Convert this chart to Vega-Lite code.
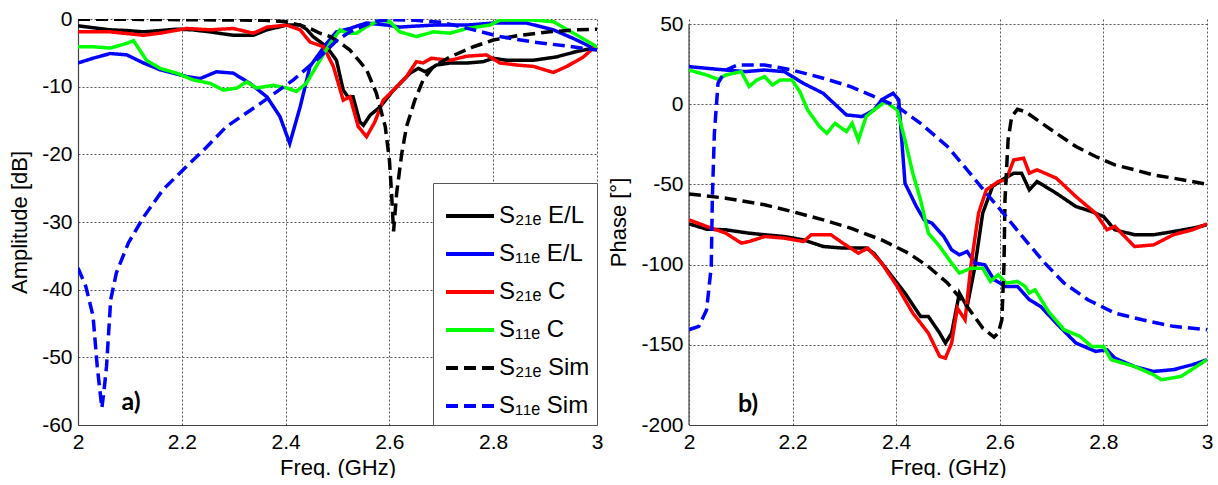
{
"$schema": "https://vega.github.io/schema/vega-lite/v6.json",
"background": "white",
"padding": {"left": 8, "top": 8, "right": 0, "bottom": 0},
"spacing": 4,
"config": {
 "view": {"stroke": null},
 "axis": {"labelFont": "Liberation Sans", "labelFontSize": 21, "labelColor": "#000", "titleFont": "Liberation Sans", "titleFontSize": 22, "titleFontWeight": "normal", "titleColor": "#000", "gridDash": [2, 2], "gridColor": "#555", "gridWidth": 1, "grid": true, "domainColor": "#444", "domainWidth": 1.2, "ticks": false, "labelPadding": 6, "titlePadding": 10, "labelFlush": false, "labelOverlap": false},
 "legend": {"orient": "bottom-right", "offset": 0, "padding": 7, "symbolOffset": 4, "strokeColor": "#555", "fillColor": "white", "symbolType": "stroke", "symbolSize": 2304, "symbolStrokeWidth": 4, "labelFont": "Liberation Sans", "labelFontSize": 24, "labelColor": "#000", "rowPadding": 0, "labelOffset": 3, "cornerRadius": 0}
},
"datasets": {
 "amp": [
  {"s":"S21E E/L","f":2.0,"v":-1.0},{"s":"S21E E/L","f":2.03,"v":-1.3},{"s":"S21E E/L","f":2.062,"v":-1.6},{"s":"S21E E/L","f":2.094,"v":-1.7},{"s":"S21E E/L","f":2.126,"v":-1.9},{"s":"S21E E/L","f":2.16,"v":-1.7},{"s":"S21E E/L","f":2.19,"v":-1.5},{"s":"S21E E/L","f":2.22,"v":-1.6},{"s":"S21E E/L","f":2.254,"v":-1.9},{"s":"S21E E/L","f":2.28,"v":-2.2},{"s":"S21E E/L","f":2.299,"v":-2.4},{"s":"S21E E/L","f":2.338,"v":-2.4},{"s":"S21E E/L","f":2.364,"v":-1.6},{"s":"S21E E/L","f":2.402,"v":-0.9},{"s":"S21E E/L","f":2.428,"v":-0.9},{"s":"S21E E/L","f":2.44,"v":-1.5},{"s":"S21E E/L","f":2.453,"v":-2.6},{"s":"S21E E/L","f":2.479,"v":-4.1},{"s":"S21E E/L","f":2.498,"v":-6.1},{"s":"S21E E/L","f":2.511,"v":-10.5},{"s":"S21E E/L","f":2.52,"v":-11.5},{"s":"S21E E/L","f":2.53,"v":-11.5},{"s":"S21E E/L","f":2.543,"v":-15.2},{"s":"S21E E/L","f":2.55,"v":-15.7},{"s":"S21E E/L","f":2.563,"v":-14.2},{"s":"S21E E/L","f":2.582,"v":-13},{"s":"S21E E/L","f":2.608,"v":-10.5},{"s":"S21E E/L","f":2.64,"v":-8},{"s":"S21E E/L","f":2.656,"v":-7.3},{"s":"S21E E/L","f":2.669,"v":-7.8},{"s":"S21E E/L","f":2.691,"v":-6.8},{"s":"S21E E/L","f":2.717,"v":-6.5},{"s":"S21E E/L","f":2.75,"v":-6.5},{"s":"S21E E/L","f":2.781,"v":-6.3},{"s":"S21E E/L","f":2.8,"v":-5.8},{"s":"S21E E/L","f":2.826,"v":-6.1},{"s":"S21E E/L","f":2.877,"v":-6.1},{"s":"S21E E/L","f":2.922,"v":-5.6},{"s":"S21E E/L","f":2.961,"v":-4.8},{"s":"S21E E/L","f":2.993,"v":-4.3},{"s":"S21E E/L","f":3.0,"v":-4.4},
  {"s":"S11E E/L","f":2.0,"v":-6.5},{"s":"S11E E/L","f":2.029,"v":-5.8},{"s":"S11E E/L","f":2.062,"v":-5.1},{"s":"S11E E/L","f":2.094,"v":-5.3},{"s":"S11E E/L","f":2.126,"v":-6.5},{"s":"S11E E/L","f":2.158,"v":-7.5},{"s":"S11E E/L","f":2.209,"v":-8.5},{"s":"S11E E/L","f":2.235,"v":-8.8},{"s":"S11E E/L","f":2.267,"v":-7.8},{"s":"S11E E/L","f":2.299,"v":-8.0},{"s":"S11E E/L","f":2.331,"v":-9.5},{"s":"S11E E/L","f":2.364,"v":-11.5},{"s":"S11E E/L","f":2.389,"v":-14.4},{"s":"S11E E/L","f":2.408,"v":-18.4},{"s":"S11E E/L","f":2.428,"v":-13},{"s":"S11E E/L","f":2.447,"v":-7.0},{"s":"S11E E/L","f":2.479,"v":-3.6},{"s":"S11E E/L","f":2.498,"v":-1.9},{"s":"S11E E/L","f":2.524,"v":-1.4},{"s":"S11E E/L","f":2.543,"v":-0.9},{"s":"S11E E/L","f":2.556,"v":-0.6},{"s":"S11E E/L","f":2.595,"v":-0.9},{"s":"S11E E/L","f":2.62,"v":-1.2},{"s":"S11E E/L","f":2.64,"v":-1.1},{"s":"S11E E/L","f":2.685,"v":-0.9},{"s":"S11E E/L","f":2.749,"v":-0.9},{"s":"S11E E/L","f":2.8,"v":-0.6},{"s":"S11E E/L","f":2.864,"v":-0.6},{"s":"S11E E/L","f":2.916,"v":-1.6},{"s":"S11E E/L","f":2.955,"v":-2.9},{"s":"S11E E/L","f":2.993,"v":-4.3},{"s":"S11E E/L","f":3.0,"v":-4.6},
  {"s":"S21E C","f":2.0,"v":-1.9},{"s":"S21E C","f":2.062,"v":-1.9},{"s":"S21E C","f":2.126,"v":-2.4},{"s":"S21E C","f":2.158,"v":-2.1},{"s":"S21E C","f":2.209,"v":-1.4},{"s":"S21E C","f":2.254,"v":-1.6},{"s":"S21E C","f":2.299,"v":-1.4},{"s":"S21E C","f":2.338,"v":-2.1},{"s":"S21E C","f":2.364,"v":-1.2},{"s":"S21E C","f":2.402,"v":-0.9},{"s":"S21E C","f":2.428,"v":-1.6},{"s":"S21E C","f":2.447,"v":-3.4},{"s":"S21E C","f":2.473,"v":-4.1},{"s":"S21E C","f":2.492,"v":-7.0},{"s":"S21E C","f":2.511,"v":-12},{"s":"S21E C","f":2.524,"v":-11.5},{"s":"S21E C","f":2.54,"v":-15.9},{"s":"S21E C","f":2.556,"v":-17.4},{"s":"S21E C","f":2.572,"v":-15.2},{"s":"S21E C","f":2.588,"v":-12},{"s":"S21E C","f":2.608,"v":-10.5},{"s":"S21E C","f":2.633,"v":-8.5},{"s":"S21E C","f":2.652,"v":-6.3},{"s":"S21E C","f":2.665,"v":-6.5},{"s":"S21E C","f":2.681,"v":-5.8},{"s":"S21E C","f":2.717,"v":-6.1},{"s":"S21E C","f":2.749,"v":-5.5},{"s":"S21E C","f":2.787,"v":-5.3},{"s":"S21E C","f":2.813,"v":-6.5},{"s":"S21E C","f":2.845,"v":-6.8},{"s":"S21E C","f":2.877,"v":-7.0},{"s":"S21E C","f":2.916,"v":-7.9},{"s":"S21E C","f":2.942,"v":-7.0},{"s":"S21E C","f":2.974,"v":-5.6},{"s":"S21E C","f":2.993,"v":-4.3},{"s":"S21E C","f":3.0,"v":-4.2},
  {"s":"S11E C","f":2.0,"v":-4.1},{"s":"S11E C","f":2.029,"v":-4.1},{"s":"S11E C","f":2.062,"v":-4.3},{"s":"S11E C","f":2.094,"v":-3.6},{"s":"S11E C","f":2.107,"v":-3.2},{"s":"S11E C","f":2.132,"v":-6.1},{"s":"S11E C","f":2.158,"v":-7.3},{"s":"S11E C","f":2.19,"v":-8.0},{"s":"S11E C","f":2.222,"v":-9.0},{"s":"S11E C","f":2.254,"v":-9.5},{"s":"S11E C","f":2.28,"v":-10.5},{"s":"S11E C","f":2.306,"v":-10.2},{"s":"S11E C","f":2.325,"v":-9.3},{"s":"S11E C","f":2.344,"v":-10.2},{"s":"S11E C","f":2.376,"v":-9.8},{"s":"S11E C","f":2.402,"v":-10.2},{"s":"S11E C","f":2.421,"v":-10.7},{"s":"S11E C","f":2.44,"v":-9.5},{"s":"S11E C","f":2.466,"v":-6.1},{"s":"S11E C","f":2.486,"v":-3.6},{"s":"S11E C","f":2.505,"v":-1.6},{"s":"S11E C","f":2.518,"v":-2.1},{"s":"S11E C","f":2.537,"v":-2.1},{"s":"S11E C","f":2.556,"v":-1.1},{"s":"S11E C","f":2.582,"v":-0.15},{"s":"S11E C","f":2.601,"v":-0.4},{"s":"S11E C","f":2.62,"v":-1.9},{"s":"S11E C","f":2.652,"v":-2.6},{"s":"S11E C","f":2.685,"v":-1.9},{"s":"S11E C","f":2.717,"v":-2.1},{"s":"S11E C","f":2.749,"v":-1.4},{"s":"S11E C","f":2.794,"v":-0.9},{"s":"S11E C","f":2.813,"v":-0.15},{"s":"S11E C","f":2.877,"v":-0.15},{"s":"S11E C","f":2.916,"v":-0.4},{"s":"S11E C","f":2.955,"v":-2.1},{"s":"S11E C","f":2.993,"v":-3.8},{"s":"S11E C","f":3.0,"v":-4.2},
  {"s":"S21E Sim","f":2.0,"v":-0.05},{"s":"S21E Sim","f":2.1,"v":-0.05},{"s":"S21E Sim","f":2.2,"v":-0.1},{"s":"S21E Sim","f":2.3,"v":-0.15},{"s":"S21E Sim","f":2.36,"v":-0.2},{"s":"S21E Sim","f":2.4,"v":-0.4},{"s":"S21E Sim","f":2.428,"v":-0.9},{"s":"S21E Sim","f":2.45,"v":-1.5},{"s":"S21E Sim","f":2.466,"v":-2.1},{"s":"S21E Sim","f":2.486,"v":-2.6},{"s":"S21E Sim","f":2.505,"v":-3.5},{"s":"S21E Sim","f":2.524,"v":-4.6},{"s":"S21E Sim","f":2.543,"v":-6.3},{"s":"S21E Sim","f":2.556,"v":-7.5},{"s":"S21E Sim","f":2.575,"v":-11},{"s":"S21E Sim","f":2.592,"v":-15.9},{"s":"S21E Sim","f":2.6,"v":-20.8},{"s":"S21E Sim","f":2.604,"v":-25.5},{"s":"S21E Sim","f":2.608,"v":-31.4},{"s":"S21E Sim","f":2.614,"v":-25.7},{"s":"S21E Sim","f":2.624,"v":-19.8},{"s":"S21E Sim","f":2.633,"v":-15.9},{"s":"S21E Sim","f":2.649,"v":-12},{"s":"S21E Sim","f":2.665,"v":-9},{"s":"S21E Sim","f":2.685,"v":-7},{"s":"S21E Sim","f":2.717,"v":-5.6},{"s":"S21E Sim","f":2.762,"v":-4.1},{"s":"S21E Sim","f":2.8,"v":-3.1},{"s":"S21E Sim","f":2.852,"v":-2.4},{"s":"S21E Sim","f":2.909,"v":-1.9},{"s":"S21E Sim","f":2.96,"v":-1.6},{"s":"S21E Sim","f":3.0,"v":-1.5},
  {"s":"S11E Sim","f":2.0,"v":-36.8},{"s":"S11E Sim","f":2.015,"v":-39.5},{"s":"S11E Sim","f":2.029,"v":-43.9},{"s":"S11E Sim","f":2.037,"v":-51.3},{"s":"S11E Sim","f":2.046,"v":-57.5},{"s":"S11E Sim","f":2.05,"v":-55},{"s":"S11E Sim","f":2.055,"v":-51.3},{"s":"S11E Sim","f":2.063,"v":-41.5},{"s":"S11E Sim","f":2.074,"v":-37.5},{"s":"S11E Sim","f":2.097,"v":-33.1},{"s":"S11E Sim","f":2.127,"v":-29.2},{"s":"S11E Sim","f":2.164,"v":-25.2},{"s":"S11E Sim","f":2.209,"v":-21.8},{"s":"S11E Sim","f":2.247,"v":-19.0},{"s":"S11E Sim","f":2.286,"v":-15.9},{"s":"S11E Sim","f":2.351,"v":-12.5},{"s":"S11E Sim","f":2.415,"v":-9},{"s":"S11E Sim","f":2.466,"v":-5.6},{"s":"S11E Sim","f":2.498,"v":-3.2},{"s":"S11E Sim","f":2.524,"v":-1.9},{"s":"S11E Sim","f":2.55,"v":-1.0},{"s":"S11E Sim","f":2.569,"v":-0.4},{"s":"S11E Sim","f":2.6,"v":-0.1},{"s":"S11E Sim","f":2.65,"v":-0.2},{"s":"S11E Sim","f":2.7,"v":-0.5},{"s":"S11E Sim","f":2.73,"v":-1.0},{"s":"S11E Sim","f":2.762,"v":-1.6},{"s":"S11E Sim","f":2.813,"v":-2.6},{"s":"S11E Sim","f":2.877,"v":-3.4},{"s":"S11E Sim","f":2.942,"v":-4.0},{"s":"S11E Sim","f":3.0,"v":-4.6}
 ],
 "phase": [
  {"s":"S21E E/L","f":2.0,"v":-74.6},{"s":"S21E E/L","f":2.034,"v":-77.9},{"s":"S21E E/L","f":2.071,"v":-78.3},{"s":"S21E E/L","f":2.116,"v":-80.4},{"s":"S21E E/L","f":2.146,"v":-81.4},{"s":"S21E E/L","f":2.184,"v":-82.5},{"s":"S21E E/L","f":2.221,"v":-84.6},{"s":"S21E E/L","f":2.259,"v":-88.7},{"s":"S21E E/L","f":2.297,"v":-89.7},{"s":"S21E E/L","f":2.342,"v":-89.7},{"s":"S21E E/L","f":2.357,"v":-92.9},{"s":"S21E E/L","f":2.387,"v":-105.3},{"s":"S21E E/L","f":2.417,"v":-117.8},{"s":"S21E E/L","f":2.447,"v":-132.3},{"s":"S21E E/L","f":2.462,"v":-132.3},{"s":"S21E E/L","f":2.484,"v":-142.7},{"s":"S21E E/L","f":2.495,"v":-148.9},{"s":"S21E E/L","f":2.507,"v":-142.7},{"s":"S21E E/L","f":2.522,"v":-117.8},{"s":"S21E E/L","f":2.529,"v":-121.9},{"s":"S21E E/L","f":2.537,"v":-126.1},{"s":"S21E E/L","f":2.552,"v":-101.2},{"s":"S21E E/L","f":2.567,"v":-67.9},{"s":"S21E E/L","f":2.586,"v":-51.3},{"s":"S21E E/L","f":2.604,"v":-47.2},{"s":"S21E E/L","f":2.627,"v":-43.0},{"s":"S21E E/L","f":2.642,"v":-43.0},{"s":"S21E E/L","f":2.657,"v":-53.4},{"s":"S21E E/L","f":2.672,"v":-48.2},{"s":"S21E E/L","f":2.709,"v":-55.5},{"s":"S21E E/L","f":2.747,"v":-63.8},{"s":"S21E E/L","f":2.777,"v":-66.9},{"s":"S21E E/L","f":2.8,"v":-70.0},{"s":"S21E E/L","f":2.822,"v":-78.3},{"s":"S21E E/L","f":2.86,"v":-81.4},{"s":"S21E E/L","f":2.897,"v":-81.4},{"s":"S21E E/L","f":2.935,"v":-79.4},{"s":"S21E E/L","f":2.972,"v":-77.3},{"s":"S21E E/L","f":3.0,"v":-75.2},
  {"s":"S11E E/L","f":2.0,"v":23.4},{"s":"S11E E/L","f":2.071,"v":21.3},{"s":"S11E E/L","f":2.109,"v":20.3},{"s":"S11E E/L","f":2.146,"v":21.3},{"s":"S11E E/L","f":2.184,"v":20.3},{"s":"S11E E/L","f":2.221,"v":13.0},{"s":"S11E E/L","f":2.259,"v":6.8},{"s":"S11E E/L","f":2.304,"v":-6.7},{"s":"S11E E/L","f":2.334,"v":-7.7},{"s":"S11E E/L","f":2.357,"v":-3.6},{"s":"S11E E/L","f":2.372,"v":2.7},{"s":"S11E E/L","f":2.394,"v":6.8},{"s":"S11E E/L","f":2.405,"v":2.7},{"s":"S11E E/L","f":2.417,"v":-49.3},{"s":"S11E E/L","f":2.439,"v":-63.8},{"s":"S11E E/L","f":2.454,"v":-72.1},{"s":"S11E E/L","f":2.469,"v":-74.2},{"s":"S11E E/L","f":2.492,"v":-82.5},{"s":"S11E E/L","f":2.507,"v":-90.8},{"s":"S11E E/L","f":2.522,"v":-93.9},{"s":"S11E E/L","f":2.537,"v":-91.8},{"s":"S11E E/L","f":2.552,"v":-99.1},{"s":"S11E E/L","f":2.571,"v":-100.1},{"s":"S11E E/L","f":2.589,"v":-109.5},{"s":"S11E E/L","f":2.612,"v":-113.6},{"s":"S11E E/L","f":2.634,"v":-113.6},{"s":"S11E E/L","f":2.657,"v":-121.9},{"s":"S11E E/L","f":2.679,"v":-126.1},{"s":"S11E E/L","f":2.709,"v":-136.5},{"s":"S11E E/L","f":2.747,"v":-148.9},{"s":"S11E E/L","f":2.785,"v":-154.1},{"s":"S11E E/L","f":2.807,"v":-153.1},{"s":"S11E E/L","f":2.822,"v":-158.3},{"s":"S11E E/L","f":2.86,"v":-163.5},{"s":"S11E E/L","f":2.897,"v":-166.6},{"s":"S11E E/L","f":2.935,"v":-165.5},{"s":"S11E E/L","f":2.972,"v":-162.4},{"s":"S11E E/L","f":3.0,"v":-159.3},
  {"s":"S21E C","f":2.0,"v":-72.1},{"s":"S21E C","f":2.034,"v":-76.2},{"s":"S21E C","f":2.071,"v":-80.4},{"s":"S21E C","f":2.101,"v":-86.6},{"s":"S21E C","f":2.116,"v":-85.6},{"s":"S21E C","f":2.146,"v":-82.5},{"s":"S21E C","f":2.184,"v":-83.5},{"s":"S21E C","f":2.221,"v":-85.6},{"s":"S21E C","f":2.236,"v":-81.4},{"s":"S21E C","f":2.274,"v":-81.4},{"s":"S21E C","f":2.297,"v":-86.6},{"s":"S21E C","f":2.327,"v":-92.9},{"s":"S21E C","f":2.345,"v":-89.7},{"s":"S21E C","f":2.372,"v":-99.1},{"s":"S21E C","f":2.402,"v":-113.6},{"s":"S21E C","f":2.432,"v":-130.2},{"s":"S21E C","f":2.462,"v":-142.7},{"s":"S21E C","f":2.484,"v":-157.2},{"s":"S21E C","f":2.495,"v":-158.3},{"s":"S21E C","f":2.507,"v":-148.9},{"s":"S21E C","f":2.518,"v":-127.1},{"s":"S21E C","f":2.533,"v":-134.4},{"s":"S21E C","f":2.544,"v":-101.2},{"s":"S21E C","f":2.559,"v":-67.9},{"s":"S21E C","f":2.574,"v":-53.4},{"s":"S21E C","f":2.597,"v":-48.2},{"s":"S21E C","f":2.612,"v":-47.2},{"s":"S21E C","f":2.627,"v":-34.7},{"s":"S21E C","f":2.646,"v":-33.7},{"s":"S21E C","f":2.657,"v":-43.0},{"s":"S21E C","f":2.672,"v":-40.9},{"s":"S21E C","f":2.709,"v":-46.1},{"s":"S21E C","f":2.747,"v":-57.6},{"s":"S21E C","f":2.785,"v":-68.0},{"s":"S21E C","f":2.807,"v":-78.3},{"s":"S21E C","f":2.822,"v":-76.2},{"s":"S21E C","f":2.86,"v":-88.7},{"s":"S21E C","f":2.897,"v":-87.7},{"s":"S21E C","f":2.935,"v":-81.4},{"s":"S21E C","f":2.972,"v":-78.3},{"s":"S21E C","f":3.0,"v":-74.6},
  {"s":"S11E C","f":2.0,"v":21.3},{"s":"S11E C","f":2.034,"v":18.2},{"s":"S11E C","f":2.056,"v":15.5},{"s":"S11E C","f":2.071,"v":18.2},{"s":"S11E C","f":2.101,"v":20.3},{"s":"S11E C","f":2.116,"v":11.0},{"s":"S11E C","f":2.131,"v":15.1},{"s":"S11E C","f":2.146,"v":17.2},{"s":"S11E C","f":2.161,"v":12.0},{"s":"S11E C","f":2.176,"v":15.1},{"s":"S11E C","f":2.199,"v":15.1},{"s":"S11E C","f":2.214,"v":7.8},{"s":"S11E C","f":2.229,"v":-3.6},{"s":"S11E C","f":2.252,"v":-14.0},{"s":"S11E C","f":2.266,"v":-18.1},{"s":"S11E C","f":2.282,"v":-11.9},{"s":"S11E C","f":2.304,"v":-17.1},{"s":"S11E C","f":2.315,"v":-11.9},{"s":"S11E C","f":2.327,"v":-22.3},{"s":"S11E C","f":2.342,"v":-7.7},{"s":"S11E C","f":2.357,"v":-3.6},{"s":"S11E C","f":2.379,"v":1.6},{"s":"S11E C","f":2.402,"v":-3.6},{"s":"S11E C","f":2.417,"v":-22.3},{"s":"S11E C","f":2.432,"v":-43.0},{"s":"S11E C","f":2.447,"v":-59.6},{"s":"S11E C","f":2.462,"v":-80.4},{"s":"S11E C","f":2.484,"v":-88.7},{"s":"S11E C","f":2.507,"v":-99.1},{"s":"S11E C","f":2.522,"v":-105.3},{"s":"S11E C","f":2.544,"v":-102.2},{"s":"S11E C","f":2.567,"v":-102.2},{"s":"S11E C","f":2.582,"v":-110.5},{"s":"S11E C","f":2.597,"v":-106.3},{"s":"S11E C","f":2.612,"v":-111.5},{"s":"S11E C","f":2.634,"v":-110.5},{"s":"S11E C","f":2.649,"v":-113.6},{"s":"S11E C","f":2.657,"v":-117.8},{"s":"S11E C","f":2.668,"v":-115.7},{"s":"S11E C","f":2.694,"v":-129.2},{"s":"S11E C","f":2.724,"v":-140.6},{"s":"S11E C","f":2.755,"v":-144.8},{"s":"S11E C","f":2.777,"v":-151.0},{"s":"S11E C","f":2.8,"v":-151.0},{"s":"S11E C","f":2.815,"v":-159.3},{"s":"S11E C","f":2.86,"v":-163.5},{"s":"S11E C","f":2.897,"v":-168.7},{"s":"S11E C","f":2.912,"v":-171.8},{"s":"S11E C","f":2.95,"v":-169.7},{"s":"S11E C","f":3.0,"v":-159.3},
  {"s":"S21E Sim","f":2.0,"v":-55.9},{"s":"S21E Sim","f":2.071,"v":-58.6},{"s":"S21E Sim","f":2.146,"v":-62.7},{"s":"S21E Sim","f":2.199,"v":-66.9},{"s":"S21E Sim","f":2.259,"v":-72.1},{"s":"S21E Sim","f":2.312,"v":-77.3},{"s":"S21E Sim","f":2.372,"v":-84.6},{"s":"S21E Sim","f":2.424,"v":-92.9},{"s":"S21E Sim","f":2.462,"v":-101.2},{"s":"S21E Sim","f":2.499,"v":-111.5},{"s":"S21E Sim","f":2.537,"v":-126.1},{"s":"S21E Sim","f":2.567,"v":-139.6},{"s":"S21E Sim","f":2.589,"v":-145.2},{"s":"S21E Sim","f":2.597,"v":-142.7},{"s":"S21E Sim","f":2.604,"v":-134.4},{"s":"S21E Sim","f":2.608,"v":-101.2},{"s":"S21E Sim","f":2.61,"v":-59.6},{"s":"S21E Sim","f":2.616,"v":-22.3},{"s":"S21E Sim","f":2.623,"v":-7.7},{"s":"S21E Sim","f":2.634,"v":-3.2},{"s":"S21E Sim","f":2.649,"v":-4.6},{"s":"S21E Sim","f":2.672,"v":-9.8},{"s":"S21E Sim","f":2.709,"v":-18.1},{"s":"S21E Sim","f":2.747,"v":-26.4},{"s":"S21E Sim","f":2.785,"v":-32.6},{"s":"S21E Sim","f":2.822,"v":-37.8},{"s":"S21E Sim","f":2.86,"v":-40.9},{"s":"S21E Sim","f":2.897,"v":-44.1},{"s":"S21E Sim","f":2.935,"v":-46.1},{"s":"S21E Sim","f":3.0,"v":-49.9},
  {"s":"S11E Sim","f":2.0,"v":-140.6},{"s":"S11E Sim","f":2.019,"v":-138.5},{"s":"S11E Sim","f":2.034,"v":-128.2},{"s":"S11E Sim","f":2.043,"v":-101.2},{"s":"S11E Sim","f":2.045,"v":-59.6},{"s":"S11E Sim","f":2.049,"v":-18.1},{"s":"S11E Sim","f":2.056,"v":13.0},{"s":"S11E Sim","f":2.071,"v":21.3},{"s":"S11E Sim","f":2.094,"v":24.5},{"s":"S11E Sim","f":2.146,"v":24.5},{"s":"S11E Sim","f":2.199,"v":21.3},{"s":"S11E Sim","f":2.259,"v":16.2},{"s":"S11E Sim","f":2.312,"v":11.0},{"s":"S11E Sim","f":2.372,"v":2.7},{"s":"S11E Sim","f":2.402,"v":-1.5},{"s":"S11E Sim","f":2.447,"v":-11.9},{"s":"S11E Sim","f":2.499,"v":-26.4},{"s":"S11E Sim","f":2.537,"v":-40.9},{"s":"S11E Sim","f":2.574,"v":-55.5},{"s":"S11E Sim","f":2.612,"v":-70.0},{"s":"S11E Sim","f":2.649,"v":-84.6},{"s":"S11E Sim","f":2.687,"v":-99.1},{"s":"S11E Sim","f":2.724,"v":-111.5},{"s":"S11E Sim","f":2.77,"v":-121.9},{"s":"S11E Sim","f":2.822,"v":-130.2},{"s":"S11E Sim","f":2.875,"v":-134.4},{"s":"S11E Sim","f":2.935,"v":-138.5},{"s":"S11E Sim","f":3.0,"v":-140.6}
 ],
 "labA": [{"f": 2.102, "v": -56.6, "t": "a)"}],
 "labB": [{"f": 2.114, "v": -186.9, "t": "b)"}],
 "frameB": [{"f": 2, "v": -200, "v2": 50}]
},
"resolve": {"legend": {"color": "independent", "strokeDash": "independent"}},
"hconcat": [
 {
  "width": 519, "height": 406,
  "layer": [
   {"data": {"name": "amp"},
    "mark": {"type": "line", "strokeWidth": 3.5, "clip": true},
    "encoding": {
     "x": {"field": "f", "type": "quantitative", "scale": {"domain": [2, 3], "nice": false, "zero": false}, "axis": {"values": [2, 2.2, 2.4, 2.6, 2.8, 3], "title": "Freq. (GHz)", "titlePadding": 5, "labelExpr": "datum.value + ''"}},
     "y": {"field": "v", "type": "quantitative", "scale": {"domain": [-60, 0], "nice": false, "zero": false}, "axis": {"values": [-60, -50, -40, -30, -20, -10, 0], "title": "Amplitude [dB]", "labelExpr": "datum.value + ''"}},
     "color": {"field": "s", "type": "nominal", "scale": {"domain": ["S21E E/L", "S11E E/L", "S21E C", "S11E C", "S21E Sim", "S11E Sim"], "range": ["#000000", "#0000ff", "#ff0000", "#00ff00", "#000000", "#0000ff"]}, "legend": {"title": null, "orient": "bottom-right", "labelExpr": "replace(replace(datum.label, '21E', '₂₁ₑ'), '11E', '₁₁ₑ')"}},
     "strokeDash": {"field": "s", "type": "nominal", "scale": {"domain": ["S21E E/L", "S11E E/L", "S21E C", "S11E C", "S21E Sim", "S11E Sim"], "range": [[1, 0], [1, 0], [1, 0], [1, 0], [12, 6], [12, 6]]}, "legend": {"title": null, "orient": "bottom-right", "labelExpr": "replace(replace(datum.label, '21E', '₂₁ₑ'), '11E', '₁₁ₑ')"}}
    }},
   {"data": {"name": "labA"},
    "mark": {"type": "text", "font": "Lato", "fontWeight": "bold", "fontSize": 25, "color": "#000"},
    "encoding": {"x": {"field": "f", "type": "quantitative"}, "y": {"field": "v", "type": "quantitative"}, "text": {"field": "t"}}}
  ]
 },
 {
  "width": 518, "height": 406,
  "layer": [
   {"data": {"name": "frameB"},
    "mark": {"type": "rule", "color": "#444", "strokeWidth": 1.2},
    "encoding": {"x": {"field": "f", "type": "quantitative"}, "y": {"field": "v", "type": "quantitative"}, "y2": {"field": "v2"}}},
   {"data": {"name": "phase"},
    "mark": {"type": "line", "strokeWidth": 3.5, "clip": true},
    "encoding": {
     "x": {"field": "f", "type": "quantitative", "scale": {"domain": [2, 3], "nice": false, "zero": false}, "axis": {"values": [2, 2.2, 2.4, 2.6, 2.8, 3], "title": "Freq. (GHz)", "titlePadding": 5, "labelExpr": "datum.value + ''"}},
     "y": {"field": "v", "type": "quantitative", "scale": {"domain": [-200, 53.12], "nice": false, "zero": false}, "axis": {"values": [-200, -150, -100, -50, 0, 50], "title": "Phase [°]", "domain": false, "labelExpr": "datum.value + ''"}},
     "color": {"field": "s", "type": "nominal", "scale": {"domain": ["S21E E/L", "S11E E/L", "S21E C", "S11E C", "S21E Sim", "S11E Sim"], "range": ["#000000", "#0000ff", "#ff0000", "#00ff00", "#000000", "#0000ff"]}, "legend": null},
     "strokeDash": {"field": "s", "type": "nominal", "scale": {"domain": ["S21E E/L", "S11E E/L", "S21E C", "S11E C", "S21E Sim", "S11E Sim"], "range": [[1, 0], [1, 0], [1, 0], [1, 0], [12, 6], [12, 6]]}, "legend": null}
    }},
   {"data": {"name": "labB"},
    "mark": {"type": "text", "font": "Lato", "fontWeight": "bold", "fontSize": 25, "color": "#000"},
    "encoding": {"x": {"field": "f", "type": "quantitative"}, "y": {"field": "v", "type": "quantitative"}, "text": {"field": "t"}}}
  ]
 }
]
}
